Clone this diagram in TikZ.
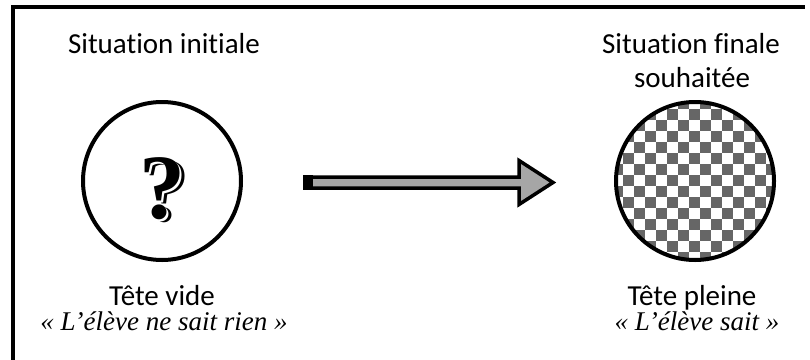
\documentclass[tikz,border=0pt]{standalone}
\usepackage{fontspec}
\setmainfont{Carlito}[Ligatures=NoCommon]
\newfontfamily\quotefont{Liberation Serif}
\newfontfamily\qmfont{Liberation Serif}
\definecolor{checkgray}{HTML}{666666}
\definecolor{arrowgray}{HTML}{A6A6A6}
\tikzset{
  title/.style={font=\fontsize{29}{34}\selectfont, anchor=base, inner sep=0pt, align=center},
  quote/.style={font=\quotefont\itshape\fontsize{27}{30}\selectfont, anchor=base, inner sep=0pt},
  head/.style={line width=4pt, draw=black},
  qm/.style={font=\qmfont\bfseries\fontsize{92}{92}\selectfont, inner sep=0pt}
}
\begin{document}
\begin{tikzpicture}[x=1pt,y=-1pt]
\useasboundingbox (0,0) rectangle (810,359);
% frame (left and top edges visible)
\draw[line width=4pt] (13,361) -- (13,7) -- (805,7);

% titles
\node[title] (t1) at (164,53) {Situation initiale};
\node[title] (t2) at (691,53) {Situation finale};
\node[title] (t3) at (692,87) {souhaitée};

% left circle
\node[circle, head, minimum size=158pt, inner sep=0pt] (c1) at (162,181) {};
% question mark with shadow
\node[qm, text=black] (q3) at (167,192) {?};
\node[qm, text=white] (q2) at (164.5,190.5) {?};
\node[qm, text=black] (q1) at (162,189) {?};

% right circle with checkerboard
\coordinate (c2c) at (695,181);
\begin{scope}
  \clip (c2c) circle (79pt);
  \fill[white] (c2c) circle (79pt);
  \foreach \i in {0,...,16} {
    \foreach \j in {0,...,16} {
      \pgfmathtruncatemacro{\parity}{mod(\i+\j,2)}
      \ifnum\parity=0
        \fill[checkgray] ({612+11*\i},{98+11*\j}) rectangle ++(11,11);
      \fi
    }
  }
\end{scope}
\node[circle, head, minimum size=158pt, inner sep=0pt] (c2) at (c2c) {};

% arrow
\fill[arrowgray, draw=black, line width=3.5pt, line join=miter]
  (305,177) -- (519,177) -- (519,160.5) -- (553,182.5) -- (519,204.5) -- (519,188) -- (305,188) -- cycle;
\fill[black] (303,175) rectangle (313,190);

% bottom labels
\node[title] (b1) at (162,305) {Tête vide};
\node[quote] (b2) at (164,330) {« L’élève ne sait rien »};
\node[title] (b3) at (692,305) {Tête pleine};
\node[quote] (b4) at (697,330) {« L’élève sait »};
\end{tikzpicture}
\end{document}
